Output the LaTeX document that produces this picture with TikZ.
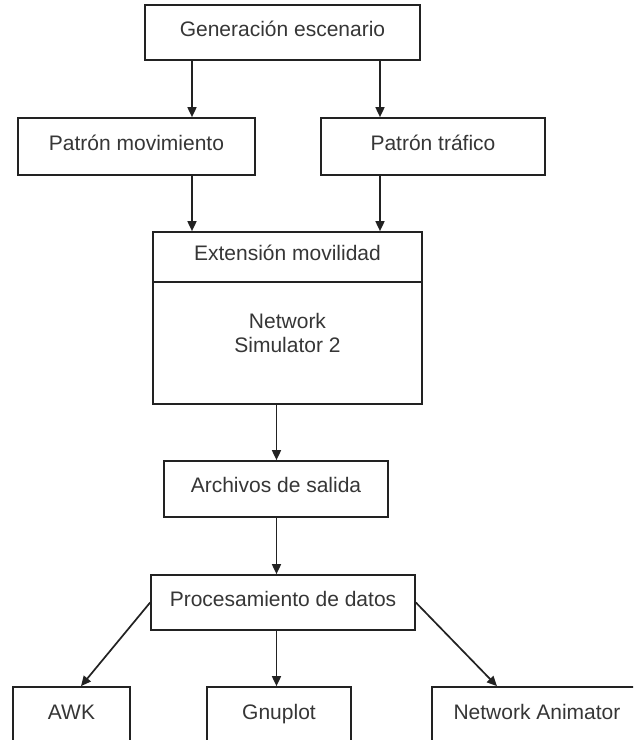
\documentclass[tikz,border=0pt]{standalone}
\usepackage{fontspec}
\setmainfont{Liberation Sans}
\usetikzlibrary{arrows.meta}
\definecolor{ink}{HTML}{222222}
\definecolor{txt}{HTML}{363636}
\tikzset{
  box/.style={draw=ink, line width=1.7pt, fill=white, inner sep=0pt,
    text=txt, font=\fontsize{21}{24}\selectfont, align=center},
  oneline/.style={text height=0.9em, text depth=0.2em},
  arr/.style={draw=ink, line width=1.7pt,
    -{Triangle[length=10pt,width=9pt]}},
}
\begin{document}
\begin{tikzpicture}[x=1pt,y=1pt]
\useasboundingbox (0,0) rectangle (633,-740);
\clip (0,0) rectangle (633,-740);
\fill[white] (0,0) rectangle (633,-740);

% boxes
\node[box, oneline, minimum width=275pt, minimum height=55pt] (gen) at (282.5,-32.5) {Generación escenario};
\node[box, oneline, minimum width=237pt, minimum height=57pt] (pm) at (136.5,-146.5) {Patrón movimiento};
\node[box, oneline, minimum width=224pt, minimum height=57pt] (pt) at (433,-146.5) {Patrón tráfico};
\node[box, oneline, minimum width=269pt, minimum height=50pt] (ext) at (287.5,-257) {Extensión movilidad};
\node[box, minimum width=269pt, minimum height=122pt] (ns) at (287.5,-343) {Network\\Simulator 2\rule[-21pt]{0pt}{21pt}};
\node[box, oneline, minimum width=224pt, minimum height=56pt] (arch) at (276,-489) {Archivos de salida};
\node[box, oneline, minimum width=264pt, minimum height=55pt] (proc) at (283,-602.5) {Procesamiento de datos};
\node[box, oneline, minimum width=117pt, minimum height=57pt] (awk) at (71.5,-715.5) {AWK};
\node[box, oneline, minimum width=144pt, minimum height=57pt] (gnu) at (279,-715.5) {Gnuplot};
\node[box, oneline, minimum width=210pt, minimum height=57pt] (na) at (537,-715.5) {Network Animator};

% columns of the vertical connectors
\coordinate (cl) at (192,0);
\coordinate (cr) at (380,0);
\coordinate (cm) at (276.5,0);
\coordinate (ca) at (81,0);
\coordinate (cn) at (497,0);

% connectors
\draw[arr] (gen.south -| cl) -- (pm.north -| cl);
\draw[arr] (gen.south -| cr) -- (pt.north -| cr);
\draw[arr] (pm.south -| cl) -- (ext.north -| cl);
\draw[arr] (pt.south -| cr) -- (ext.north -| cr);
\draw[arr] (ns.south -| cm) -- (arch.north -| cm);
\draw[arr] (arch.south -| cm) -- (proc.north -| cm);
\draw[arr] (proc.south -| cm) -- (gnu.north -| cm);
\draw[arr] (proc.west) -- (awk.north -| ca);
\draw[arr] (proc.east) -- (na.north -| cn);
\end{tikzpicture}
\end{document}
